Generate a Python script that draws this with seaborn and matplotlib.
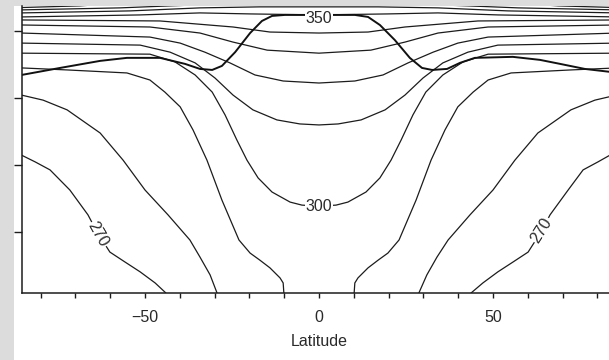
import matplotlib
matplotlib.use("Agg")
import matplotlib.pyplot as plt
import pandas as pd
import seaborn as sns
from matplotlib.patches import Rectangle

sns.set_theme(style="ticks")
plt.rcParams["font.family"] = ["Liberation Sans", "DejaVu Sans"]

# Zonal-mean isentropes, (latitude [deg], pressure [hPa]) along each contour
theta_270_south = [(-85.5, 571), (-81.6, 591), (-77.3, 615), (-71.6, 675), (-66.4, 749),
                   (-63.8, 800), (-60.1, 860), (-55.7, 890), (-51.4, 919), (-47.1, 952), (-44.0, 982)]
theta_270_north = [(43.7, 982), (47.1, 952), (51.4, 919), (55.7, 890), (60.1, 860), (63.8, 800),
                   (66.4, 749), (71.6, 675), (75.9, 615), (80.2, 591), (85.5, 560)]
theta_280_south = [(-85.5, 392), (-79.3, 407), (-72.4, 436), (-62.9, 505), (-56.3, 586), (-50.0, 675),
                   (-43.4, 749), (-37.1, 824), (-34.2, 875), (-31.3, 928), (-29.3, 982)]
theta_280_north = [(28.7, 982), (31.0, 928), (33.9, 875), (37.1, 824), (43.4, 749), (50.0, 675),
                   (56.3, 586), (62.9, 505), (72.4, 436), (79.3, 407), (85.5, 392)]
theta_290_south = [(-85.5, 311), (-72.4, 317), (-55.2, 326), (-48.6, 347), (-44.3, 383), (-39.9, 427),
                   (-36.2, 496), (-32.2, 586), (-27.9, 705), (-23.0, 824), (-19.8, 863), (-17.0, 884),
                   (-14.1, 907), (-11.2, 937), (-10.3, 952), (-10.1, 982)]
theta_290_north = [(10.1, 982), (10.3, 952), (11.2, 937), (14.1, 907), (17.0, 884), (19.8, 863),
                   (23.0, 824), (27.9, 705), (32.2, 586), (36.2, 496), (39.9, 427), (44.3, 383),
                   (48.6, 347), (55.2, 326), (72.4, 317), (85.5, 311)]
theta_300 = [(-85.5, 267), (-48.6, 270), (-41.4, 293), (-35.6, 332), (-30.7, 383), (-27.0, 451),
             (-23.6, 526), (-20.7, 586), (-17.5, 639), (-13.5, 681), (-8.3, 711), (-4.9, 720),
             (0.0, 723), (4.9, 720), (8.3, 711), (13.5, 681), (17.5, 639), (20.7, 586), (23.6, 526),
             (27.0, 451), (30.7, 383), (35.6, 332), (41.4, 293), (48.6, 270), (85.5, 267)]
theta_310 = [(-85.5, 237), (-51.4, 243), (-42.8, 264), (-35.6, 296), (-29.9, 341), (-24.7, 392),
             (-19.0, 436), (-12.1, 466), (-5.5, 478), (0.0, 481), (5.5, 478), (12.1, 466), (19.0, 436),
             (24.7, 392), (29.9, 341), (35.6, 296), (42.8, 264), (51.4, 243), (85.5, 237)]
theta_320 = [(-85.5, 207), (-48.6, 219), (-39.9, 237), (-32.8, 264), (-25.6, 296), (-18.4, 332),
             (-10.3, 350), (0.0, 356), (10.3, 350), (18.4, 332), (25.6, 296), (32.8, 264),
             (39.9, 237), (48.6, 219), (85.5, 207)]
theta_330 = [(-85.5, 183), (-48.6, 189), (-34.2, 207), (-24.7, 234), (-14.9, 258), (0.0, 267),
             (14.9, 258), (24.7, 234), (34.2, 207), (48.6, 189), (85.5, 183)]
theta_340 = [(-85.5, 168), (-45.7, 171), (-24.7, 189), (-14.1, 204), (0.0, 207), (14.1, 204),
             (24.7, 189), (45.7, 171), (85.5, 168)]
theta_350 = [(-85.5, 159), (-51.4, 153), (-34.2, 147), (-19.8, 150), (0.0, 153), (19.8, 150),
             (34.2, 147), (51.4, 153), (85.5, 159)]
theta_360 = [(-85.5, 147), (-54.3, 141), (-34.2, 132), (-17.0, 129), (0.0, 129), (17.0, 129),
             (34.2, 132), (54.3, 141), (85.5, 147)]
theta_370 = [(-85.5, 138), (-57.2, 132), (-42.8, 126), (-34.2, 123)]
theta_370_north = [(34.2, 123), (42.8, 126), (57.2, 132), (85.5, 138)]
theta_380 = [(-85.5, 131), (-68.7, 126), (-60.0, 120)]
theta_380_north = [(60.0, 120), (68.7, 126), (85.5, 131)]

# Thermal tropopause
tropopause = [(-85.5, 332), (-74.4, 311), (-62.9, 290), (-55.2, 281), (-45.7, 281), (-38.5, 299),
              (-34.2, 314), (-30.7, 317), (-27.9, 305), (-24.1, 264), (-19.8, 207), (-16.4, 171),
              (-13.5, 156), (-9.8, 153), (10.3, 153), (14.1, 159), (17.5, 183), (21.8, 228),
              (26.1, 281), (29.6, 311), (32.5, 317), (36.8, 314), (40.5, 296), (44.8, 281),
              (55.7, 278), (63.5, 287), (69.3, 299), (76.4, 314), (85.5, 325)]

# Contour labels: (text, latitude, pressure, rotation)
contour_labels = [("350", 0.0, 165, 0), ("300", 0.0, 723, 0),
                  ("270", -63.5, 808, -60), ("270", 64.0, 795, 58)]

x_ticks = list(range(-80, 81, 10))
x_tick_labels = {-50: "\u221250", 0: "0", 50: "50"}
p_ticks = [200, 400, 600, 800]

branches = {
    "270S": theta_270_south, "270N": theta_270_north,
    "280S": theta_280_south, "280N": theta_280_north,
    "290S": theta_290_south, "290N": theta_290_north,
    "300": theta_300, "310": theta_310, "320": theta_320, "330": theta_330,
    "340": theta_340, "350": theta_350, "360": theta_360,
    "370S": theta_370, "370N": theta_370_north,
    "380S": theta_380, "380N": theta_380_north,
}
rows = []
for name, pts in branches.items():
    for i, (lat, p) in enumerate(pts):
        rows.append({"branch": name, "order": i, "lat": lat, "p": p})
iso = pd.DataFrame(rows)
trop = pd.DataFrame(tropopause, columns=["lat", "p"])

W, H = 609, 360
fig = plt.figure(figsize=(W / 100, H / 100), dpi=100, facecolor="#dcdcdc")
fig.patches.append(Rectangle((14 / W, 0), 1, 354 / H, transform=fig.transFigure,
                             facecolor="white", edgecolor="none", zorder=-5))
ax = fig.add_axes([21.5 / W, 67 / H, 595 / W, 287 / H])
ax.set_zorder(2)
ax.set_facecolor("white")

ink = "#1c1c1c"
sns.lineplot(data=iso, x="lat", y="p", units="branch", estimator=None, sort=False,
             color=ink, linewidth=0.9, ax=ax, legend=False)
sns.lineplot(data=trop, x="lat", y="p", estimator=None, sort=False,
             color="#111111", linewidth=1.4, ax=ax, legend=False)
for line in ax.get_lines():
    line.set_solid_joinstyle("round")

for text, lat, p, rot in contour_labels:
    ax.text(lat, p, text, ha="center", va="center", rotation=rot, fontsize=11.5,
            color="#2a2a2a", rotation_mode="anchor", zorder=5,
            bbox=dict(facecolor="white", edgecolor="none", pad=0.6))

ax.set_xlim(-85.5, 85.5)
ax.set_ylim(982, 126.4)
ax.set_xticks(x_ticks)
ax.set_xticklabels([x_tick_labels.get(t, "") for t in x_ticks])
ax.set_yticks(p_ticks)
ax.set_yticklabels([])
ax.tick_params(axis="x", direction="out", length=3.8, width=1.0, pad=8.5,
               labelsize=11.5, colors=ink, labelcolor="#2a2a2a")
ax.tick_params(axis="y", direction="out", length=5.5, width=1.0, colors=ink)
ax.set_xlabel("Latitude", fontsize=11.5, color="#2a2a2a", labelpad=6.5)
ax.set_ylabel("")
for side in ("top", "right"):
    ax.spines[side].set_visible(False)
for side in ("left", "bottom"):
    ax.spines[side].set_linewidth(1.1)
    ax.spines[side].set_color(ink)

fig.savefig("out.png", dpi=100, facecolor=fig.get_facecolor())
